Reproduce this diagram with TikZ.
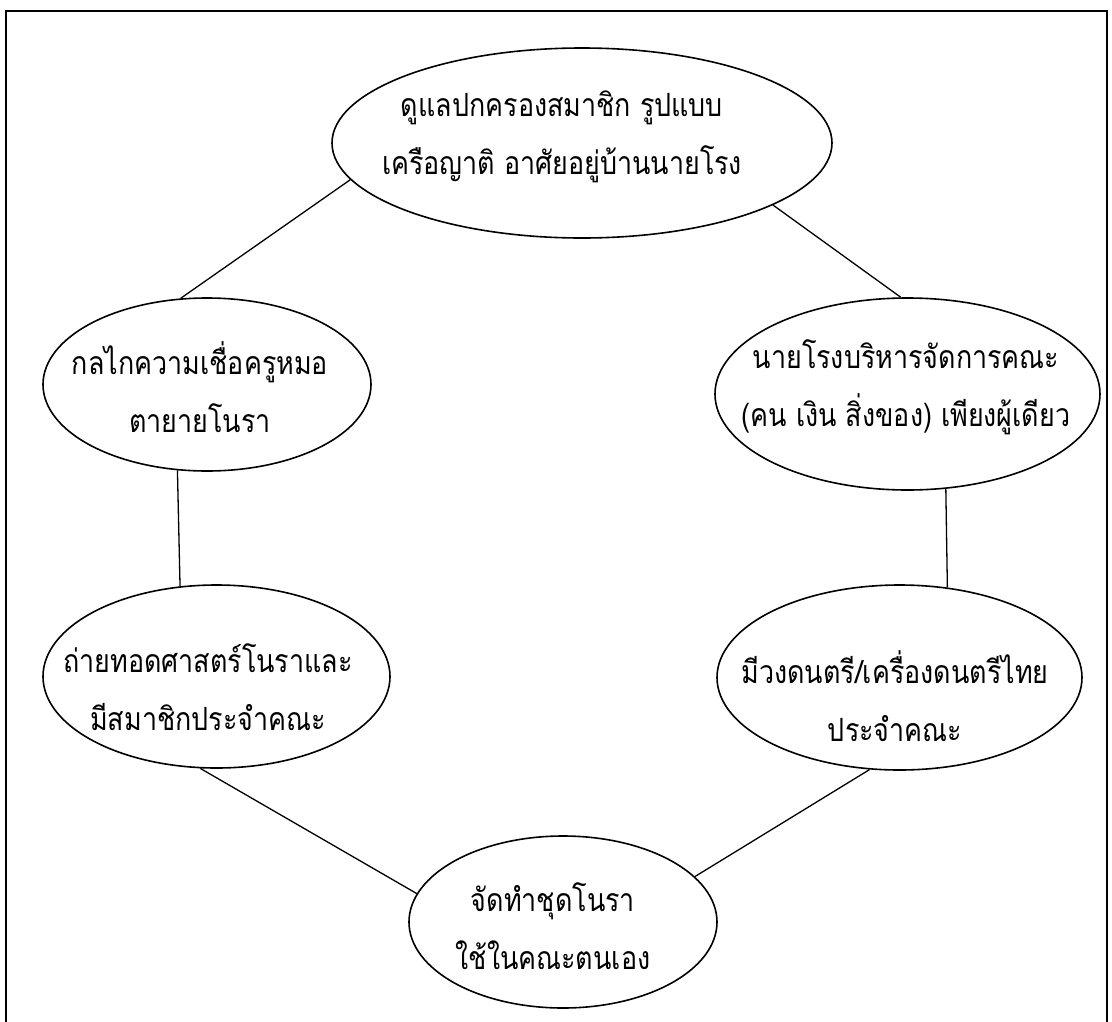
\documentclass[tikz,border=0pt]{standalone}
\usepackage{fontspec}
\newfontfamily\thaifont[Script=Thai,FakeStretch=0.84]{Loma}
\usetikzlibrary{shapes.geometric}

\begin{document}
\begin{tikzpicture}[x=1pt, y=-1pt,
  bubble/.style 2 args={draw, ellipse, line width=1.6pt, inner sep=0pt,
                        minimum width=#1, minimum height=#2},
  thaitext/.style={align=center, inner sep=0pt,
                   font=\thaifont\fontsize{32}{58}\selectfont},
  link/.style={line width=1.3pt},
  frame/.style={line width=1.6pt}
]
\useasboundingbox (0,0) rectangle (1112,1021);

% outer frame (open at the bottom edge of the page)
\draw[frame] (6,1040) -- (6,11) -- (1107,11) -- (1107,1040);

% ellipses
\node[bubble={500}{190}] (top)      at (582,143)     {};
\node[bubble={328}{173}] (left)     at (207,384.5)   {};
\node[bubble={385}{192}] (right)    at (907.5,394)   {};
\node[bubble={347}{183}] (lowleft)  at (216.5,676.5) {};
\node[bubble={365}{185}] (lowright) at (899.5,677.5) {};
\node[bubble={308}{172}] (bottom)   at (563,922)     {};

% texts
\node[thaitext] (ttop)      at (562,136.5) {ดูแลปกครองสมาชิก รูปแบบ\\เครือญาติ อาศัยอยู่บ้านนายโรง};
\node[thaitext] (tleft)     at (200,387.5) {กลไกความเชื่อครูหมอ\\ตายายโนรา};
\node[thaitext] (tright)    at (906,387.5) {นายโรงบริหารจัดการคณะ\\(คน เงิน สิ่งของ) เพียงผู้เดียว};
\node[thaitext] (tlowleft)  at (208,687.5) {ถ่ายทอดศาสตร์โนราและ\\มีสมาชิกประจำคณะ};
\node[thaitext] (tlowright) at (895,696.5) {มีวงดนตรี/เครื่องดนตรีไทย\\ประจำคณะ};
\node[thaitext] (tbottom)   at (553,926.5) {จัดทำชุดโนรา\\ใช้ในคณะตนเอง};

% connectors
\draw[link] (top.189.9)     -- (left.107.1);
\draw[link] (top.342.9)     -- (right.94);
\draw[link] (left.251.9)    -- (lowleft.112.8);
\draw[link] (right.292.4)   -- (lowright.62.2);
\draw[link] (lowleft.260.3) -- (bottom.169);
\draw[link] (lowright.252)  -- (bottom.19.2);
\end{tikzpicture}
\end{document}
